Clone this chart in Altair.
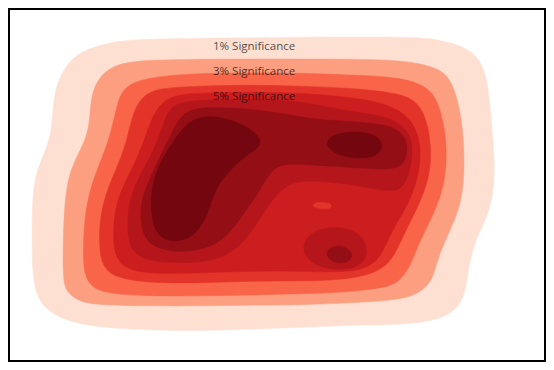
import altair as alt
import pandas as pd

# colours of the contour levels, outermost (lowest density) to innermost
level_colors = ["#fee0d2", "#fc9e80", "#f86548", "#e3342a",
                "#cc1d1f", "#b5161b", "#930e15", "#74060f"]

# contour boundaries (x, y in the picture's coordinate frame)
L1 = [(117, 40), (160, 39), (200, 38), (250, 38), (300, 37), (350, 37), (400, 37), (433, 38),
      (467, 47), (480, 60), (488, 80), (492, 130), (495, 163), (493, 197), (487, 217), (474, 243),
      (468, 270), (465, 297), (453, 313), (433, 321), (400, 325), (350, 325), (317, 327), (250, 329),
      (200, 331), (150, 330), (88, 327), (53, 316), (38, 300), (33, 280), (32, 250), (32, 210),
      (34, 180), (42, 158), (51, 137), (53, 107), (56, 85), (67, 63), (83, 50)]
L2 = [(150, 60), (200, 59), (250, 59), (300, 59), (350, 59), (400, 60), (440, 67), (453, 83),
      (462, 117), (465, 163), (462, 203), (450, 230), (438, 257), (433, 280), (420, 293), (400, 300),
      (350, 303), (300, 305), (250, 305), (200, 306), (150, 306), (100, 305), (80, 302), (67, 293),
      (63, 280), (63, 250), (64, 210), (68, 177), (76, 158), (87, 137), (90, 117), (91, 97),
      (98, 77), (117, 63)]
L3 = [(150, 77), (200, 73), (250, 73), (300, 73), (350, 75), (400, 77), (430, 87), (440, 107),
      (447, 140), (446, 180), (435, 212), (420, 240), (410, 267), (400, 280), (390, 287), (350, 292),
      (300, 294), (250, 295), (200, 296), (150, 296), (110, 294), (92, 288), (84, 275), (83, 250),
      (85, 210), (93, 180), (102, 158), (112, 130), (117, 103), (125, 85)]
L4 = [(160, 88), (200, 86), (250, 85), (300, 86), (350, 88), (400, 93), (420, 103), (430, 130),
      (432, 170), (420, 203), (407, 228), (397, 250), (385, 270), (350, 280), (300, 281), (250, 281),
      (200, 283), (150, 283), (115, 278), (102, 266), (99, 245), (100, 215), (108, 187), (119, 163),
      (127, 140), (133, 112), (143, 95)]
L5 = [(170, 95), (200, 93), (250, 92), (300, 93), (350, 97), (390, 104), (413, 120), (422, 147),
      (418, 180), (407, 207), (395, 225), (385, 247), (375, 265), (350, 273), (300, 271), (250, 271),
      (200, 273), (150, 274), (125, 269), (114, 255), (113, 230), (116, 203), (126, 180), (138, 157),
      (147, 132), (155, 110)]
L6 = [(175, 103), (200, 100), (250, 99), (300, 101), (330, 108), (360, 113), (390, 117), (408, 130),
      (413, 145), (410, 175), (400, 192), (380, 190), (350, 184), (320, 181), (295, 181), (280, 190),
      (265, 210), (250, 235), (230, 255), (205, 262), (175, 263), (150, 261), (133, 254), (127, 235),
      (128, 205), (137, 180), (150, 158), (160, 135), (166, 115)]
L7 = [(185, 108), (220, 107), (260, 110), (290, 115), (320, 120), (360, 122), (390, 125), (405, 135),
      (408, 150), (404, 165), (390, 170), (360, 168), (313, 165), (282, 163), (270, 172), (260, 190),
      (245, 212), (225, 240), (200, 251), (170, 252), (148, 245), (140, 225), (141, 200), (150, 178),
      (161, 155), (173, 130)]
L8a = [(200, 116), (223, 117), (247, 126), (263, 140), (257, 149), (245, 156), (230, 170), (215, 188),
       (208, 215), (195, 236), (175, 243), (157, 237), (151, 215), (151, 190), (158, 166), (172, 143),
       (186, 124)]
L8b = [(335, 134), (355, 131), (375, 134), (384, 145), (378, 156), (360, 159), (340, 156), (326, 147),
       (328, 139)]
L6b = [(310, 231), (335, 226), (358, 231), (369, 248), (363, 266), (340, 271), (314, 266), (300, 250)]
L7b = [(330, 247), (342, 245), (353, 252), (351, 261), (340, 264), (329, 260), (326, 253)]
L4b = [(310, 205), (320, 201), (333, 204), (331, 209), (318, 209)]

# (name, level index, boundary) in drawing order
polygons = [("L1", 0, L1), ("L2", 1, L2), ("L3", 2, L3), ("L4", 3, L4), ("L5", 4, L5),
            ("L6", 5, L6), ("L7", 6, L7), ("L8a", 7, L8a), ("L8b", 7, L8b),
            ("L6b", 5, L6b), ("L7b", 6, L7b), ("L4b", 3, L4b)]

label_text = ["1% Significance", "3% Significance", "5% Significance"]
label_x = [213, 213, 213]
label_y = [47, 72, 97]

rows = []
for name, lev, pts in polygons:
    for i, (x, y) in enumerate(pts):
        rows.append({"poly": name, "i": i, "x": x, "y": y})
df = pd.DataFrame(rows)
labels = pd.DataFrame({"text": label_text, "x": label_x, "y": label_y})

xs = alt.Scale(domain=[8, 546], nice=False, zero=False)
ys = alt.Scale(domain=[8, 362], nice=False, zero=False, reverse=True)

base = alt.Chart(df)
layers = []
for name, lev, pts in polygons:
    c = level_colors[lev]
    layers.append(
        base.transform_filter(alt.datum.poly == name)
        .mark_line(interpolate="basis-closed", fill=c, stroke=c, strokeWidth=0.5)
        .encode(x=alt.X("x:Q", scale=xs, axis=None),
                y=alt.Y("y:Q", scale=ys, axis=None),
                order=alt.Order("i:Q"))
    )

text = alt.Chart(labels).mark_text(
    align="left", baseline="middle", font="Open Sans", fontSize=11.5, color="#000000", opacity=0.68
).encode(x=alt.X("x:Q", scale=xs, axis=None), y=alt.Y("y:Q", scale=ys, axis=None), text="text:N")

chart = alt.layer(*layers, text).properties(
    width=538, height=354, autosize=alt.AutoSizeParams(type="none"), padding=0
).configure_view(stroke="black", strokeWidth=4)

chart.save("out.html", embed_options={"renderer": "svg", "actions": False})
